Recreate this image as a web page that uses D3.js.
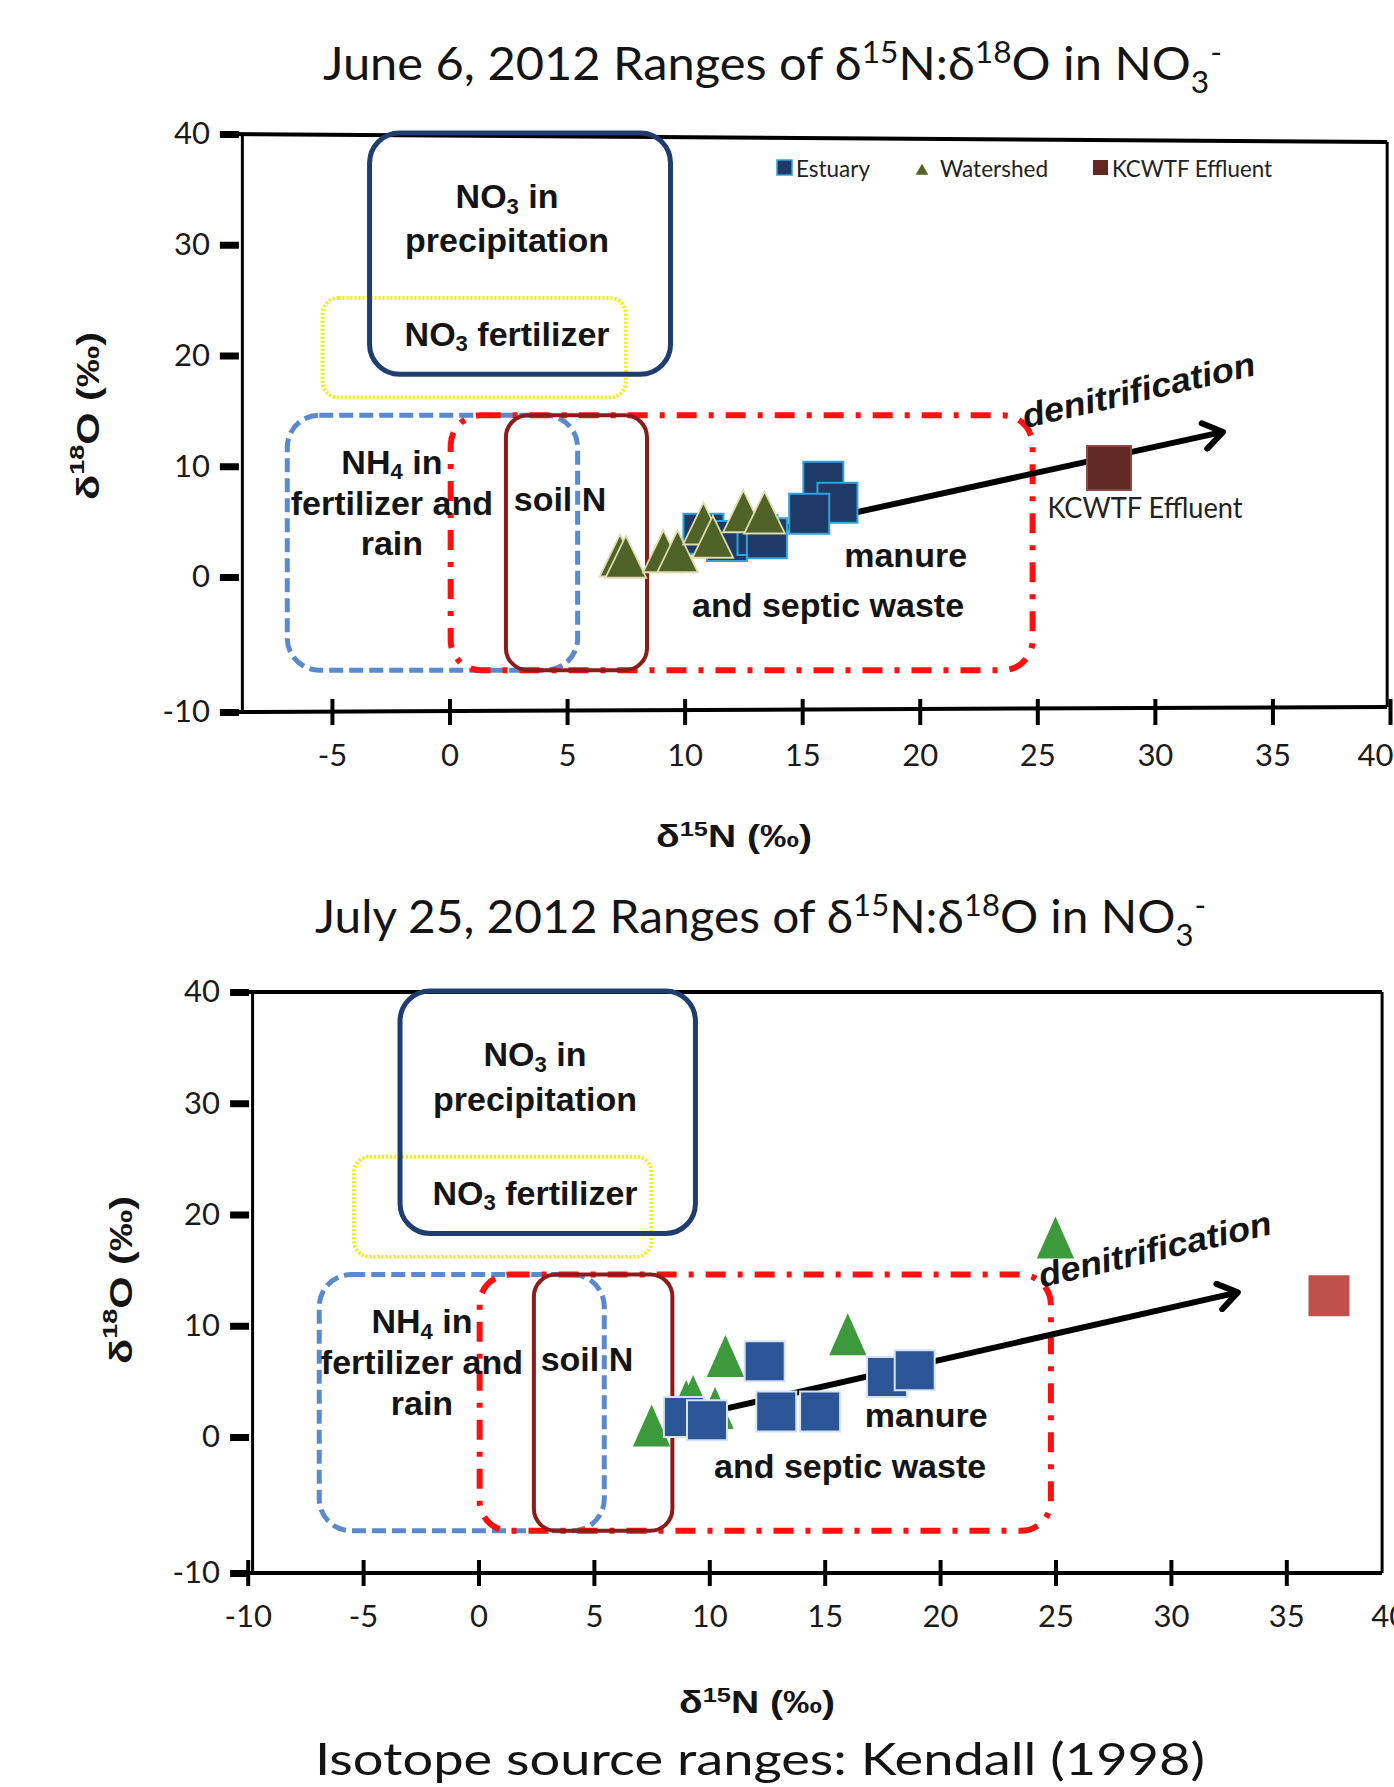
<!DOCTYPE html>
<html>
<head>
<meta charset="utf-8">
<script src="https://cdn.jsdelivr.net/npm/d3@7"></script>
<style>
body { margin: 0; background: #fff; }
svg { display: block; font-family: Lato, "Open Sans", sans-serif; fill: #141414; }
</style>
</head>
<body>
<svg width="1394" height="1787"></svg>
<script>
const svg = d3.select('svg')

// axis ticks
const yTicks = [-10, 0, 10, 20, 30, 40]
const juneXTicks = [-5, 0, 5, 10, 15, 20, 25, 30, 35, 40]
const julyXTicks = [-10, -5, 0, 5, 10, 15, 20, 25, 30, 35, 40]

// source ranges (Kendall 1998), d15N / d18O
const regionNames = ['NO3 fertilizer', 'precipitation', 'NH4', 'manure', 'soil N']
const regionN0 = [-5.4, -3.4, -6.9, 0.05, 2.4]
const regionN1 = [7.5, 9.4, 5.45, 24.8, 8.4]
const regionO0 = [16.2, 18.3, -6.9, -6.9, -6.9]
const regionO1 = [25.2, 40.1, 14.6, 14.6, 14.6]

const regionStyle = {
  'NO3 fertilizer': {stroke: '#f0f000', width: 4, dash: '2,2', rx: 16},
  'precipitation': {stroke: '#1f3d6e', width: 5, dash: null, rx: 30},
  'NH4': {stroke: '#5a8acb', width: 5, dash: '14,6', rx: 32},
  'manure': {stroke: '#ff1010', width: 6, dash: '20,12,5,12', rx: 30},
  'soil N': {stroke: '#8e1b1b', width: 4, dash: null, rx: 22}
}

// region labels
const labelParts = [
  [['NO'], ['3', 'sub'], [' in']],
  [['precipitation']],
  [['NO'], ['3', 'sub'], [' fertilizer']],
  [['NH'], ['4', 'sub'], [' in']],
  [['fertilizer and']],
  [['rain']],
  [['soil N']],
  [['manure']],
  [['and septic waste']]
]
const labelN = [2.45, 2.45, 2.45, -2.45, -2.45, -2.45, 4.7, 19.4, 16.1]
const labelO = [34.4, 30.4, 21.95, 10.4, 6.7, 3.1, 7.0, 2.0, -2.1]

// June 6, 2012 samples
const juneEstuaryN = [10.8, 11.8, 13.1, 13.5, 15.9, 16.5, 15.3]
const juneEstuaryO = [3.9, 3.25, 3.8, 3.5, 8.6, 6.7, 5.7]
const juneWatershedN = [7.25, 7.5, 9.1, 9.7, 10.8, 11.2, 12.5, 13.4]
const juneWatershedO = [1.3, 1.2, 1.7, 1.7, 4.2, 3.0, 5.3, 5.2]
const juneEffluentN = [28.05]
const juneEffluentO = [9.85]
const juneArrowN = [14.2, 32.9]
const juneArrowO = [4.4, 13.1]

// July 25, 2012 samples
const julyEstuaryN = [12.4, 17.7, 18.9, 12.9, 14.8, 8.9, 9.9]
const julyEstuaryO = [6.8, 5.4, 6.0, 2.3, 2.3, 1.8, 1.5]
const julyWatershedN = [7.5, 10.7, 16.0, 9.0, 9.3, 10.25, 25.0]
const julyWatershedO = [0.4, 6.65, 8.6, 2.6, 3.05, 1.97, 17.3]
const julyEffluentN = [36.85]
const julyEffluentO = [12.7]
const julyArrowN = [10.8, 32.9]
const julyArrowO = [2.6, 13.0]

const legendNames = ['Estuary', 'Watershed', 'KCWTF Effluent']

const ARIAL = 'Liberation Sans, Arial, sans-serif'

svg.append('defs').append('marker')
  .attr('id', 'chev')
  .attr('viewBox', '-24 -16 30 32')
  .attr('markerUnits', 'userSpaceOnUse')
  .attr('markerWidth', 30).attr('markerHeight', 32)
  .attr('orient', 'auto')
  .append('path')
  .attr('d', 'M-19,-13 L0,0 L-19,13')
  .attr('fill', 'none').attr('stroke', '#000')
  .attr('stroke-width', 6).attr('stroke-linecap', 'round').attr('stroke-linejoin', 'round')

function richText(sel, parts, size) {
  let shift = 0
  parts.forEach(([s, kind, dx]) => {
    const target = kind === 'sub' ? 0.28 * size : kind === 'sup' ? -0.36 * size : 0
    const t = sel.append('tspan')
      .attr('dy', target - shift)
      .attr('font-size', kind ? size * 0.65 : size)
      .text(s)
    if (dx) t.attr('dx', dx)
    shift = target
  })
}

function drawPanel(p) {
  const x = d3.scaleLinear().domain([0, 40]).range(p.xRange)
  const y = d3.scaleLinear().domain([-10, 0, 40]).range(p.yRange)
  const g = svg.append('g')
  const left = x(p.xMin), right = x(p.xMax), top = y(40), bottom = y(-10)

  // title
  const title = g.append('text')
    .attr('x', p.titleX).attr('y', p.titleY)
    .attr('textLength', p.titleW).attr('lengthAdjust', 'spacingAndGlyphs')
    .attr('font-size', 46)
  richText(title, [[p.date + ', 2012 Ranges of δ'], ['15', 'sup'], ['N:δ'], ['18', 'sup'],
    ['O in NO'], ['3', 'sub'], ['-', 'sup', 1]], 46)

  // frame
  g.append('line').attr('x1', left - 14).attr('x2', right)
    .attr('y1', top).attr('y2', top + p.topTilt)
    .attr('stroke', '#000').attr('stroke-width', 4)
  g.append('line').attr('x1', right).attr('x2', right)
    .attr('y1', top + p.topTilt).attr('y2', bottom + p.bottomTilt)
    .attr('stroke', '#000').attr('stroke-width', 3)
  g.append('line').attr('x1', left - 14).attr('x2', right)
    .attr('y1', bottom).attr('y2', bottom + p.bottomTilt)
    .attr('stroke', '#000').attr('stroke-width', 4)

  // y axis
  const yg = g.append('g').attr('transform', `translate(${left},0)`)
    .call(d3.axisLeft(y).tickValues(yTicks).tickFormat(d => String(d))
      .tickSize(22).tickSizeOuter(0).tickPadding(10))
  yg.select('.domain').attr('stroke-width', 3)
  yg.selectAll('.tick line').attr('x1', -3).attr('stroke-width', 7)
  yg.selectAll('.tick text').attr('font-size', 31).attr('fill', '#1a1a1a')
    .attr('font-family', 'Lato, sans-serif')

  // x axis
  const xg = g.append('g').attr('transform', `translate(0,${bottom})`)
    .call(d3.axisBottom(x).tickValues(p.xTicks).tickFormat(d => String(d)).tickSize(13))
  xg.select('.domain').remove()
  xg.selectAll('.tick line').attr('y1', -13).attr('stroke-width', 4)
  xg.selectAll('.tick text').attr('font-size', 31).attr('fill', '#1a1a1a')
    .attr('font-family', 'Lato, sans-serif')
    .attr('dy', null).attr('y', 54)
    .filter(d => x(d) > right - 5)
    .attr('x', p.lastTickShift)

  // axis titles
  const xl = g.append('text').attr('x', p.xlabel[0]).attr('y', p.xlabel[1])
    .attr('text-anchor', 'middle').attr('font-family', ARIAL)
    .attr('font-weight', 'bold').attr('textLength', 156).attr('lengthAdjust', 'spacingAndGlyphs')
  richText(xl, [['δ'], ['15', 'sup'], ['N (‰)']], 31)
  const yl = g.append('text')
    .attr('transform', `translate(${p.ylabel[0]},${p.ylabel[1]}) rotate(-90)`)
    .attr('text-anchor', 'middle').attr('dominant-baseline', 'central')
    .attr('font-family', ARIAL).attr('font-weight', 'bold')
    .attr('textLength', 168).attr('lengthAdjust', 'spacingAndGlyphs')
  richText(yl, [['δ'], ['18', 'sup'], ['O (‰)']], 32)

  // source regions
  g.selectAll('rect.region').data(regionNames).join('rect')
    .attr('class', 'region')
    .attr('x', (d, i) => x(regionN0[i]))
    .attr('y', (d, i) => y(regionO1[i]))
    .attr('width', (d, i) => x(regionN1[i]) - x(regionN0[i]))
    .attr('height', (d, i) => y(regionO0[i]) - y(regionO1[i]))
    .attr('rx', d => regionStyle[d].rx)
    .attr('fill', 'none')
    .attr('stroke', d => regionStyle[d].stroke)
    .attr('stroke-width', d => regionStyle[d].width)
    .attr('stroke-dasharray', d => regionStyle[d].dash)

  labelParts.forEach((parts, i) => {
    const t = g.append('text')
      .attr('x', x(labelN[i])).attr('y', y(labelO[i]))
      .attr('text-anchor', 'middle').attr('dominant-baseline', 'central')
      .attr('font-family', ARIAL).attr('font-weight', 'bold')
    richText(t, parts, 34)
  })

  // denitrification trend
  g.append('line')
    .attr('x1', x(p.arrowN[0])).attr('y1', y(p.arrowO[0]))
    .attr('x2', x(p.arrowN[1])).attr('y2', y(p.arrowO[1]))
    .attr('stroke', '#000').attr('stroke-width', 6)
    .attr('marker-end', 'url(#chev)')
  g.append('text')
    .attr('transform', `translate(${x(29.3)},${y(16.9)}) rotate(-13)`)
    .attr('text-anchor', 'middle').attr('dominant-baseline', 'central')
    .attr('font-family', ARIAL)
    .attr('font-weight', 'bold').attr('font-style', 'italic').attr('font-size', 34)
    .attr('textLength', 238).attr('lengthAdjust', 'spacingAndGlyphs')
    .text('denitrification')

  // samples
  const square = d3.symbol(d3.symbolSquare, 40 * 40)
  const tri = d3.symbol(d3.symbolTriangle, 1018)
  const drawSquares = () => g.selectAll('path.est').data(p.estN).join('path')
    .attr('class', 'est')
    .attr('transform', (d, i) => `translate(${x(d)},${y(p.estO[i])})`)
    .attr('d', square)
    .attr('fill', p.estFill).attr('stroke', p.estStroke).attr('stroke-width', 2)
  const drawTriangles = () => g.selectAll('path.ws').data(p.wsN).join('path')
    .attr('class', 'ws')
    .attr('transform', (d, i) => `translate(${x(d)},${y(p.wsO[i])}) scale(${p.triScale},1)`)
    .attr('d', tri)
    .attr('fill', p.wsFill).attr('stroke', p.wsStroke).attr('stroke-width', 2)
  if (p.squaresFirst) { drawSquares(); drawTriangles() } else { drawTriangles(); drawSquares() }

  g.selectAll('path.eff').data(p.effN).join('path')
    .attr('class', 'eff')
    .attr('transform', (d, i) => `translate(${x(d)},${y(p.effO[i])})`)
    .attr('d', d3.symbol(d3.symbolSquare, p.effSize * p.effSize))
    .attr('fill', p.effFill).attr('stroke', p.effStroke).attr('stroke-width', 2)

  if (p.effLabel) {
    g.selectAll('text.efflab').data(p.effN).join('text')
      .attr('class', 'efflab')
      .attr('x', (d, i) => x(d) + 36).attr('y', (d, i) => y(p.effO[i]) + 50)
      .attr('text-anchor', 'middle').attr('font-size', 28)
      .attr('textLength', 195).attr('lengthAdjust', 'spacingAndGlyphs')
      .attr('fill', '#222')
      .text('KCWTF Effluent')
  }

  if (p.legend) {
    const lx = [777, 914, 1093]
    const lw = [74, 108, 160]
    const lg = g.append('g').attr('transform', 'translate(0,168)')
    legendNames.forEach((name, i) => {
      if (i === 1) {
        lg.append('path').attr('transform', `translate(${lx[i] + 8},3)`)
          .attr('d', d3.symbol(d3.symbolTriangle, 70)).attr('fill', p.wsFill)
      } else {
        lg.append('rect').attr('x', lx[i]).attr('y', -8).attr('width', 15).attr('height', 15)
          .attr('fill', i === 0 ? p.estFill : p.effFill)
          .attr('stroke', i === 0 ? p.estStroke : 'none').attr('stroke-width', 1.5)
      }
      lg.append('text').attr('x', lx[i] + (i === 1 ? 26 : 19)).attr('y', 9)
        .attr('font-size', 23).attr('textLength', lw[i]).attr('lengthAdjust', 'spacingAndGlyphs')
        .attr('fill', '#222')
        .text(name)
    })
  }
}

drawPanel({
  date: 'June 6', titleX: 323, titleY: 80, titleW: 899,
  xRange: [449.5, 1390], xMin: -8.83, xMax: 39.88, yRange: [712, 577, 134],
  topTilt: 8, bottomTilt: -5, lastTickShift: -15,
  xTicks: juneXTicks, xlabel: [734, 847], ylabel: [88, 416],
  arrowN: juneArrowN, arrowO: juneArrowO,
  estN: juneEstuaryN, estO: juneEstuaryO, estFill: '#1f3a66', estStroke: '#2fa3dc',
  wsN: juneWatershedN, wsO: juneWatershedO, wsFill: '#4f6228', wsStroke: '#dedcae', triScale: 0.84,
  effN: juneEffluentN, effO: juneEffluentO, effFill: '#642822', effStroke: '#8a4a44', effSize: 44,
  squaresFirst: true, effLabel: true, legend: true
})

drawPanel({
  date: 'July 25', titleX: 315, titleY: 933, titleW: 891,
  xRange: [478.5, 1401.7], xMin: -9.81, xMax: 39.15, yRange: [1573, 1437, 992],
  topTilt: 0, bottomTilt: 0, lastTickShift: -13,
  xTicks: julyXTicks, xlabel: [757, 1713], ylabel: [121, 1280],
  arrowN: julyArrowN, arrowO: julyArrowO,
  estN: julyEstuaryN, estO: julyEstuaryO, estFill: '#2b5597', estStroke: '#d6e2f3',
  wsN: julyWatershedN, wsO: julyWatershedO, wsFill: '#3c9a3c', wsStroke: 'none', triScale: 0.77,
  effN: julyEffluentN, effO: julyEffluentO, effFill: '#c0504d', effStroke: 'none', effSize: 41,
  squaresFirst: false, effLabel: false, legend: false
})

svg.append('text')
  .attr('x', 315).attr('y', 1775)
  .attr('font-size', 44).attr('textLength', 890).attr('lengthAdjust', 'spacingAndGlyphs')
  .text('Isotope source ranges: Kendall (1998)')
</script>
</body>
</html>
